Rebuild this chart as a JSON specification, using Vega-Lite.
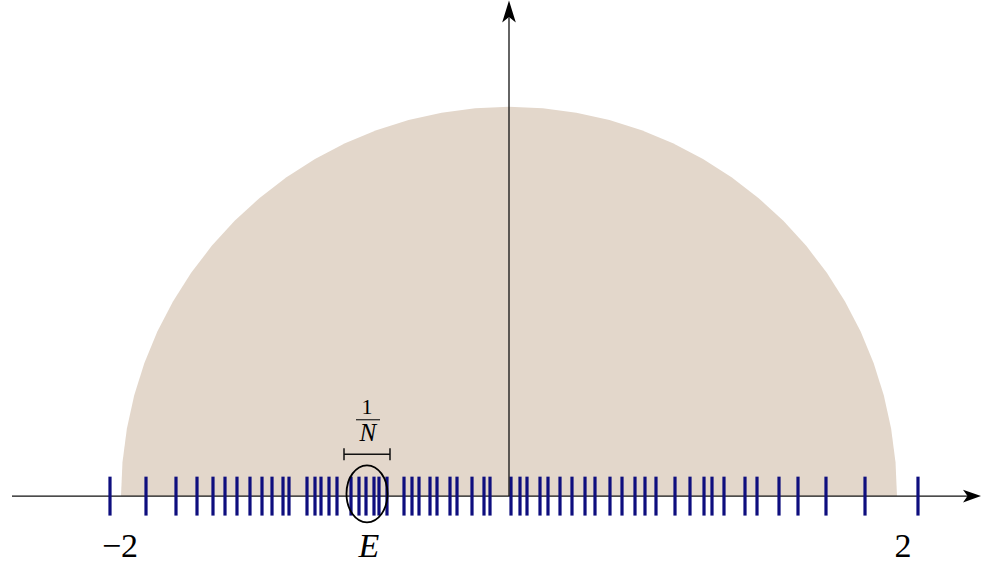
{
  "$schema": "https://vega.github.io/schema/vega-lite/v6.json",
  "width": 983,
  "height": 564,
  "autosize": {"type": "fit", "contains": "padding"},
  "padding": 0,
  "background": "white",
  "config": {"view": {"stroke": null}},
  "data": {"values": [{"one": 1}]},
  "datasets": {
    "circle": [
      {"x": -2, "y": 0}, {"x": -1.99239, "y": 0.17431}, {"x": -1.96962, "y": 0.3473}, {"x": -1.93185, "y": 0.51764},
      {"x": -1.87939, "y": 0.68404}, {"x": -1.81262, "y": 0.84524}, {"x": -1.73205, "y": 1.0}, {"x": -1.6383, "y": 1.14715},
      {"x": -1.53209, "y": 1.28558}, {"x": -1.41421, "y": 1.41421}, {"x": -1.28558, "y": 1.53209}, {"x": -1.14715, "y": 1.6383},
      {"x": -1.0, "y": 1.73205}, {"x": -0.84524, "y": 1.81262}, {"x": -0.68404, "y": 1.87939}, {"x": -0.51764, "y": 1.93185},
      {"x": -0.3473, "y": 1.96962}, {"x": -0.17431, "y": 1.99239}, {"x": 0, "y": 2},
      {"x": 0.17431, "y": 1.99239}, {"x": 0.3473, "y": 1.96962}, {"x": 0.51764, "y": 1.93185}, {"x": 0.68404, "y": 1.87939},
      {"x": 0.84524, "y": 1.81262}, {"x": 1.0, "y": 1.73205}, {"x": 1.14715, "y": 1.6383}, {"x": 1.28558, "y": 1.53209},
      {"x": 1.41421, "y": 1.41421}, {"x": 1.53209, "y": 1.28558}, {"x": 1.6383, "y": 1.14715}, {"x": 1.73205, "y": 1.0},
      {"x": 1.81262, "y": 0.84524}, {"x": 1.87939, "y": 0.68404}, {"x": 1.93185, "y": 0.51764}, {"x": 1.96962, "y": 0.3473},
      {"x": 1.99239, "y": 0.17431}, {"x": 2, "y": 0}
    ],
    "ticks": [
      {"x": -2.0567}, {"x": -1.8711}, {"x": -1.7165}, {"x": -1.6082}, {"x": -1.5258}, {"x": -1.4639}, {"x": -1.4021},
      {"x": -1.3351}, {"x": -1.2732}, {"x": -1.2216}, {"x": -1.1649}, {"x": -1.134}, {"x": -1.0412}, {"x": -1.0},
      {"x": -0.9691}, {"x": -0.9278}, {"x": -0.8866}, {"x": -0.8144}, {"x": -0.7732}, {"x": -0.7371}, {"x": -0.6959},
      {"x": -0.6701}, {"x": -0.6289}, {"x": -0.5412}, {"x": -0.5}, {"x": -0.4639}, {"x": -0.4072}, {"x": -0.3711},
      {"x": -0.3041}, {"x": -0.268}, {"x": -0.1907}, {"x": -0.1289}, {"x": -0.0979}, {"x": 0.0103}, {"x": 0.0567},
      {"x": 0.0928}, {"x": 0.1598}, {"x": 0.201}, {"x": 0.2629}, {"x": 0.3247}, {"x": 0.3918}, {"x": 0.4433},
      {"x": 0.5206}, {"x": 0.5825}, {"x": 0.6495}, {"x": 0.701}, {"x": 0.7577}, {"x": 0.8557}, {"x": 0.933},
      {"x": 1.0052}, {"x": 1.0464}, {"x": 1.1082}, {"x": 1.2165}, {"x": 1.2784}, {"x": 1.3918}, {"x": 1.4897},
      {"x": 1.634}, {"x": 1.8351}, {"x": 2.1082}
    ],
    "labels": [
      {"x": -2.005, "y": -0.3128, "text": "−2"},
      {"x": 2.031, "y": -0.3128, "text": "2"}
    ]
  },
  "layer": [
    {
      "data": {"name": "circle"},
      "mark": {"type": "area", "color": "#e3d7cb", "opacity": 1},
      "encoding": {
        "x": {"field": "x", "type": "quantitative", "scale": {"domain": [-2.6237, 2.4433], "nice": false, "zero": false}, "axis": null},
        "y": {"field": "y", "type": "quantitative", "scale": {"domain": [-0.3436, 2.5487], "nice": false, "zero": false}, "axis": null},
        "y2": {"datum": 0}
      }
    },
    {
      "mark": {"type": "rule", "color": "#111111", "strokeWidth": 1.3},
      "encoding": {
        "x": {"datum": -2.5619, "type": "quantitative", "scale": {"domain": [-2.6237, 2.4433], "nice": false, "zero": false}, "axis": null},
        "x2": {"datum": 2.39},
        "y": {"datum": 0, "type": "quantitative", "scale": {"domain": [-0.3436, 2.5487], "nice": false, "zero": false}, "axis": null}
      }
    },
    {
      "data": {"name": "ticks"},
      "mark": {"type": "rule", "color": "#0e0e7e", "strokeWidth": 3.2},
      "encoding": {
        "x": {"field": "x", "type": "quantitative", "scale": {"domain": [-2.6237, 2.4433], "nice": false, "zero": false}, "axis": null},
        "y": {"datum": -0.1, "type": "quantitative", "scale": {"domain": [-0.3436, 2.5487], "nice": false, "zero": false}, "axis": null},
        "y2": {"datum": 0.1}
      }
    },
    {
      "mark": {"type": "rule", "color": "#111111", "strokeWidth": 1.3},
      "encoding": {
        "x": {"datum": 0, "type": "quantitative", "scale": {"domain": [-2.6237, 2.4433], "nice": false, "zero": false}, "axis": null},
        "y": {"datum": 0, "type": "quantitative", "scale": {"domain": [-0.3436, 2.5487], "nice": false, "zero": false}, "axis": null},
        "y2": {"datum": 2.46}
      }
    },
    {
      "mark": {"type": "point", "shape": "M1,0 L-1,-0.72 L-0.5,0 L-1,0.72 Z", "size": 324, "filled": true, "color": "#000000", "opacity": 1},
      "encoding": {
        "x": {"datum": 2.3866, "type": "quantitative", "scale": {"domain": [-2.6237, 2.4433], "nice": false, "zero": false}, "axis": null},
        "y": {"datum": 0, "type": "quantitative", "scale": {"domain": [-0.3436, 2.5487], "nice": false, "zero": false}, "axis": null}
      }
    },
    {
      "mark": {"type": "point", "shape": "M0,-1 L0.62,1 L0,0.5 L-0.62,1 Z", "size": 484, "filled": true, "color": "#000000", "opacity": 1},
      "encoding": {
        "x": {"datum": 0, "type": "quantitative", "scale": {"domain": [-2.6237, 2.4433], "nice": false, "zero": false}, "axis": null},
        "y": {"datum": 2.49, "type": "quantitative", "scale": {"domain": [-0.3436, 2.5487], "nice": false, "zero": false}, "axis": null}
      }
    },
    {
      "mark": {"type": "point", "shape": "M-0.72,0 A0.72,1 0 1,0 0.72,0 A0.72,1 0 1,0 -0.72,0 Z", "size": 3249, "filled": false, "stroke": "#000000", "strokeWidth": 1.8, "opacity": 1},
      "encoding": {
        "x": {"datum": -0.732, "type": "quantitative", "scale": {"domain": [-2.6237, 2.4433], "nice": false, "zero": false}, "axis": null},
        "y": {"datum": 0.012, "type": "quantitative", "scale": {"domain": [-0.3436, 2.5487], "nice": false, "zero": false}, "axis": null}
      }
    },
    {
      "mark": {"type": "rule", "color": "#111111", "strokeWidth": 1.5},
      "encoding": {
        "x": {"datum": -0.8505, "type": "quantitative", "scale": {"domain": [-2.6237, 2.4433], "nice": false, "zero": false}, "axis": null},
        "x2": {"datum": -0.6134},
        "y": {"datum": 0.2154, "type": "quantitative", "scale": {"domain": [-0.3436, 2.5487], "nice": false, "zero": false}, "axis": null}
      }
    },
    {
      "mark": {"type": "rule", "color": "#111111", "strokeWidth": 1.5},
      "encoding": {
        "x": {"datum": -0.8505, "type": "quantitative", "scale": {"domain": [-2.6237, 2.4433], "nice": false, "zero": false}, "axis": null},
        "y": {"datum": 0.1846, "type": "quantitative", "scale": {"domain": [-0.3436, 2.5487], "nice": false, "zero": false}, "axis": null},
        "y2": {"datum": 0.2462}
      }
    },
    {
      "mark": {"type": "rule", "color": "#111111", "strokeWidth": 1.5},
      "encoding": {
        "x": {"datum": -0.6134, "type": "quantitative", "scale": {"domain": [-2.6237, 2.4433], "nice": false, "zero": false}, "axis": null},
        "y": {"datum": 0.1846, "type": "quantitative", "scale": {"domain": [-0.3436, 2.5487], "nice": false, "zero": false}, "axis": null},
        "y2": {"datum": 0.2462}
      }
    },
    {
      "mark": {"type": "rule", "color": "#111111", "strokeWidth": 1.1},
      "encoding": {
        "x": {"datum": -0.7887, "type": "quantitative", "scale": {"domain": [-2.6237, 2.4433], "nice": false, "zero": false}, "axis": null},
        "x2": {"datum": -0.6649},
        "y": {"datum": 0.3923, "type": "quantitative", "scale": {"domain": [-0.3436, 2.5487], "nice": false, "zero": false}, "axis": null}
      }
    },
    {
      "mark": {"type": "text", "text": "1", "font": "Liberation Serif", "fontSize": 22, "align": "center", "baseline": "alphabetic", "color": "#000000"},
      "encoding": {
        "x": {"datum": -0.732, "type": "quantitative", "scale": {"domain": [-2.6237, 2.4433], "nice": false, "zero": false}, "axis": null},
        "y": {"datum": 0.42, "type": "quantitative", "scale": {"domain": [-0.3436, 2.5487], "nice": false, "zero": false}, "axis": null}
      }
    },
    {
      "mark": {"type": "text", "text": "N", "font": "Liberation Serif", "fontStyle": "italic", "fontSize": 25, "align": "center", "baseline": "alphabetic", "color": "#000000"},
      "encoding": {
        "x": {"datum": -0.727, "type": "quantitative", "scale": {"domain": [-2.6237, 2.4433], "nice": false, "zero": false}, "axis": null},
        "y": {"datum": 0.285, "type": "quantitative", "scale": {"domain": [-0.3436, 2.5487], "nice": false, "zero": false}, "axis": null}
      }
    },
    {
      "mark": {"type": "text", "text": "E", "font": "Liberation Serif", "fontStyle": "italic", "fontSize": 34, "align": "center", "baseline": "alphabetic", "color": "#000000"},
      "encoding": {
        "x": {"datum": -0.722, "type": "quantitative", "scale": {"domain": [-2.6237, 2.4433], "nice": false, "zero": false}, "axis": null},
        "y": {"datum": -0.3128, "type": "quantitative", "scale": {"domain": [-0.3436, 2.5487], "nice": false, "zero": false}, "axis": null}
      }
    },
    {
      "data": {"name": "labels"},
      "mark": {"type": "text", "font": "Liberation Serif", "fontSize": 34, "align": "center", "baseline": "alphabetic", "color": "#000000"},
      "encoding": {
        "x": {"field": "x", "type": "quantitative", "scale": {"domain": [-2.6237, 2.4433], "nice": false, "zero": false}, "axis": null},
        "y": {"field": "y", "type": "quantitative", "scale": {"domain": [-0.3436, 2.5487], "nice": false, "zero": false}, "axis": null},
        "text": {"field": "text", "type": "nominal"}
      }
    }
  ]
}
